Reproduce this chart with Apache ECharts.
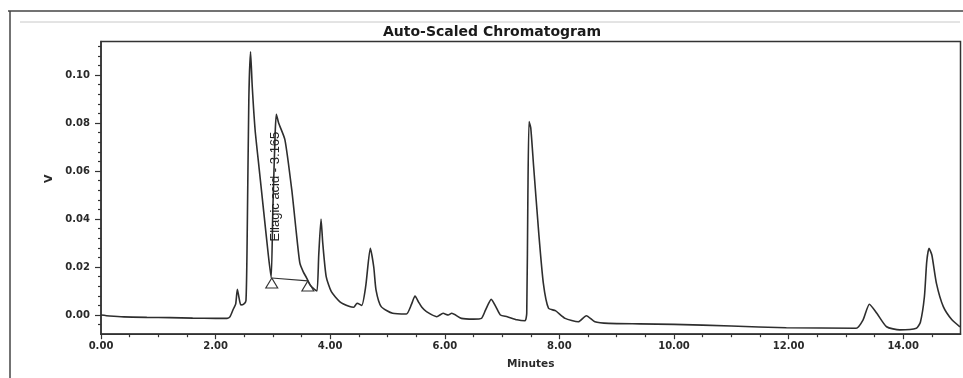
<!DOCTYPE html>
<html>
<head>
<meta charset="utf-8">
<script src="https://cdn.jsdelivr.net/npm/echarts@6/dist/echarts.min.js"></script>
<style>
  html, body { margin: 0; padding: 0; background: #fff; }
  #chart { width: 963px; height: 378px; }
</style>
</head>
<body>
<div id="chart"></div>
<script>
// ---- Data ----
const titleText = "Auto-Scaled Chromatogram";
const xAxisName = "Minutes";
const yAxisName = "V";

const times = [
  0.00, 0.15, 0.40, 0.80, 1.20, 1.60, 2.00, 2.20, 2.25, 2.31, 2.35, 2.38, 2.41, 2.44, 2.49,
  2.53, 2.55, 2.58, 2.61, 2.64, 2.69, 2.76, 2.84, 2.92, 2.97, 3.00, 3.04, 3.06, 3.10, 3.21,
  3.33, 3.41, 3.47, 3.53, 3.59, 3.65, 3.72, 3.77, 3.80, 3.84, 3.87, 3.93, 4.02, 4.17,
  4.34, 4.41, 4.47, 4.55, 4.62, 4.70, 4.76, 4.80, 4.89, 5.09, 5.33, 5.42, 5.48, 5.54, 5.60,
  5.68, 5.86, 5.97, 6.06, 6.12, 6.29, 6.50, 6.64, 6.71, 6.81, 6.89, 6.97, 7.09, 7.26, 7.40,
  7.43, 7.45, 7.47, 7.50, 7.55, 7.64, 7.72, 7.81, 7.93, 8.10, 8.33, 8.47, 8.62, 8.86, 9.40,
  10.00, 11.00, 11.96, 13.18, 13.30, 13.41, 13.54, 13.71, 13.94, 14.23, 14.30, 14.37, 14.41, 14.45, 14.50,
  14.58, 14.70, 14.85, 14.99
];
const volts = [
  0.0000, -0.0004, -0.0008, -0.0010, -0.0011, -0.0013, -0.0014, -0.0014, -0.0008, 0.0025, 0.0045, 0.0107, 0.0070, 0.0042, 0.0045,
  0.0060, 0.0300, 0.0900, 0.1097, 0.0950, 0.0770, 0.0610, 0.0430, 0.0250, 0.0155, 0.0450, 0.0760, 0.0836, 0.0800, 0.0730,
  0.0520, 0.0340, 0.0217, 0.0180, 0.0154, 0.0125, 0.0108, 0.0100, 0.0250, 0.0400, 0.0300, 0.0160, 0.0097, 0.0055,
  0.0035, 0.0032, 0.0049, 0.0040, 0.0120, 0.0278, 0.0200, 0.0104, 0.0035, 0.0007, 0.0004, 0.0045, 0.0079, 0.0055, 0.0032,
  0.0014, -0.0007, 0.0007, 0.0000, 0.0007, -0.0014, -0.0017, -0.0014, 0.0020, 0.0065, 0.0035, 0.0000, -0.0007, -0.0020, -0.0024,
  0.0007, 0.0500, 0.0806, 0.0780, 0.0620, 0.0340, 0.0132, 0.0028, 0.0018, -0.0014, -0.0028, -0.0003, -0.0028, -0.0035, -0.0037,
  -0.0039, -0.0046, -0.0053, -0.0055, -0.0020, 0.0045, 0.0007, -0.0049, -0.0062, -0.0055, -0.0030, 0.0076, 0.0220, 0.0278, 0.0250,
  0.0132, 0.0035, -0.0020, -0.0049
];

// integration baseline of the labelled peak (start / end markers)
const baselineTimes = [2.98, 3.61];
const baselineVolts = [0.0154, 0.0142];

// peak annotation
const peakName = "Ellagic acid";
const peakRt = "3.165";
const peakLabelAt = [3.037, 0.0535];

// axis ticks
const xMajor = [0, 2, 4, 6, 8, 10, 12, 14];
const xTickLabels = ["0.00", "2.00", "4.00", "6.00", "8.00", "10.00", "12.00", "14.00"];
const xMinor = [0.5, 1, 1.5, 2.5, 3, 3.5, 4.5, 5, 5.5, 6.5, 7, 7.5, 8.5, 9, 9.5, 10.5, 11, 11.5, 12.5, 13, 13.5, 14.5];
const yMajor = [0, 0.02, 0.04, 0.06, 0.08, 0.10];
const yTickLabels = ["0.00", "0.02", "0.04", "0.06", "0.08", "0.10"];
const yMinor = [-0.004, 0.004, 0.008, 0.012, 0.016, 0.024, 0.028, 0.032, 0.036, 0.044, 0.048, 0.052, 0.056,
  0.064, 0.068, 0.072, 0.076, 0.084, 0.088, 0.092, 0.096, 0.104, 0.108, 0.112];

// ---- Build chart ----
const lineData = times.map((t, i) => [t, volts[i]]);
const baselineData = baselineTimes.map((t, i) => [t, baselineVolts[i]]);

function labelFor(majors, labels) {
  return function (v) {
    const i = majors.findIndex(m => Math.abs(m - v) < 1e-9);
    return i >= 0 ? labels[i] : '';
  };
}

const ink = '#333';
const tickFont = { fontFamily: 'DejaVu Sans', fontWeight: 'bold', fontSize: 10, color: '#2a2a2a' };

const X_MIN = 0, X_MAX = 15, Y_MIN = -0.008, Y_MAX = 0.114;

const chart = echarts.init(document.getElementById('chart'), null, { renderer: 'canvas' });
chart.setOption({
  animation: false,
  backgroundColor: '#fff',
  title: {
    text: titleText,
    left: 378, top: 20,
    textStyle: { fontFamily: 'DejaVu Sans', fontWeight: 'bold', fontSize: 14, color: '#1a1a1a' }
  },
  grid: {
    left: 101, right: 2.5, top: 41.4, bottom: 43.8,
    show: true, borderColor: ink, borderWidth: 1.5, backgroundColor: 'transparent'
  },
  graphic: [
    { type: 'line', shape: { x1: 8, y1: 11, x2: 963, y2: 11 }, style: { stroke: '#444', lineWidth: 1.5 } },
    { type: 'line', shape: { x1: 10, y1: 11, x2: 10, y2: 378 }, style: { stroke: '#444', lineWidth: 1.5 } },
    { type: 'line', shape: { x1: 20, y1: 22, x2: 960, y2: 22 }, style: { stroke: '#c8c8c8', lineWidth: 1 } }
  ],
  xAxis: [
    {
      type: 'value', min: X_MIN, max: X_MAX,
      name: xAxisName, nameLocation: 'middle', nameGap: 25,
      nameTextStyle: { fontFamily: 'DejaVu Sans', fontWeight: 'bold', fontSize: 10.5, color: '#2a2a2a' },
      axisLine: { show: true, onZero: false, lineStyle: { color: ink, width: 1.5 } },
      axisTick: { show: true, length: 5, customValues: xMajor, lineStyle: { color: ink, width: 1.2 } },
      axisLabel: Object.assign({ customValues: xMajor, margin: 7, formatter: labelFor(xMajor, xTickLabels) }, tickFont),
      splitLine: { show: false }
    },
    {
      type: 'value', min: X_MIN, max: X_MAX, position: 'bottom', offset: 0,
      axisLine: { show: false, onZero: false },
      axisTick: { show: true, length: 3, customValues: xMinor, lineStyle: { color: ink, width: 1.2 } },
      axisLabel: { show: false },
      splitLine: { show: false }
    }
  ],
  yAxis: [
    {
      type: 'value', min: Y_MIN, max: Y_MAX,
      name: yAxisName, nameLocation: 'middle', nameGap: 45, nameRotate: 90,
      nameTextStyle: { fontFamily: 'DejaVu Sans', fontWeight: 'bold', fontSize: 11, color: '#2a2a2a', padding: [0, 0, 0, 18] },
      axisLine: { show: true, onZero: false, lineStyle: { color: ink, width: 1.5 } },
      axisTick: { show: true, length: 6, customValues: yMajor, lineStyle: { color: ink, width: 1.2 } },
      axisLabel: Object.assign({ customValues: yMajor, margin: 11, formatter: labelFor(yMajor, yTickLabels) }, tickFont),
      splitLine: { show: false }
    },
    {
      type: 'value', min: Y_MIN, max: Y_MAX, position: 'left', offset: 0,
      axisLine: { show: false, onZero: false },
      axisTick: { show: true, length: 3, customValues: yMinor, lineStyle: { color: ink, width: 1.2 } },
      axisLabel: { show: false },
      splitLine: { show: false }
    }
  ],
  series: [
    {
      name: 'Signal',
      type: 'line',
      xAxisIndex: 0, yAxisIndex: 0,
      data: lineData,
      showSymbol: false, symbol: 'none',
      smooth: 0.2,
      lineStyle: { color: '#2e2e2e', width: 1.6 },
      markPoint: {
        symbol: 'circle', symbolSize: 0,
        label: {
          show: true, position: 'inside', rotate: 90,
          fontFamily: 'Liberation Sans', fontSize: 13, color: '#222',
          formatter: peakName + ' - ' + peakRt
        },
        data: [{ coord: peakLabelAt }]
      },
      z: 3
    },
    {
      name: 'Baseline',
      type: 'line',
      xAxisIndex: 0, yAxisIndex: 0,
      data: baselineData,
      symbol: 'triangle', symbolSize: [12, 10], symbolOffset: [0, 5], showSymbol: true,
      itemStyle: { color: 'rgba(0,0,0,0)', borderColor: '#333', borderWidth: 1.1 },
      lineStyle: { color: '#333', width: 1.1 },
      z: 4
    }
  ]
});
</script>
</body>
</html>
